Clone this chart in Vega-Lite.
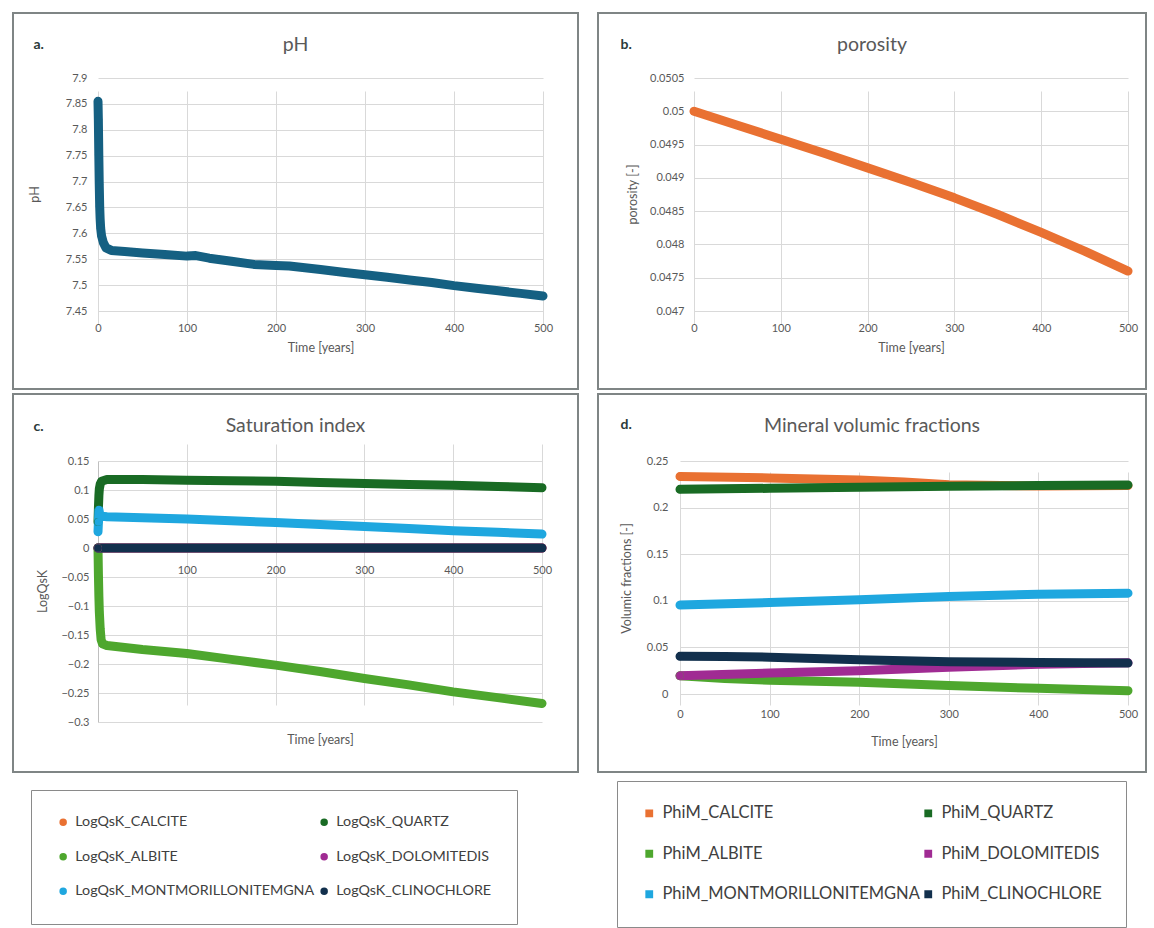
{
"$schema": "https://vega.github.io/schema/vega-lite/v6.json",
"background": "white",
"padding": {"left": 12, "top": 12, "right": 4, "bottom": 0},
"datasets": {
"ph": [
{"t":0,"pH":7.855},{"t":0.4,"pH":7.82},{"t":0.9,"pH":7.752},{"t":1.4,"pH":7.695},{"t":1.9,"pH":7.652},{"t":2.4,"pH":7.628},{"t":3,"pH":7.61},{"t":4,"pH":7.595},{"t":6,"pH":7.582},{"t":9,"pH":7.572},{"t":15,"pH":7.567},{"t":30,"pH":7.565},{"t":50,"pH":7.562},{"t":75,"pH":7.559},{"t":100,"pH":7.556},{"t":110,"pH":7.557},{"t":125,"pH":7.552},{"t":150,"pH":7.546},{"t":175,"pH":7.54},{"t":200,"pH":7.538},{"t":215,"pH":7.537},{"t":250,"pH":7.53},{"t":275,"pH":7.525},{"t":300,"pH":7.52},{"t":325,"pH":7.515},{"t":350,"pH":7.51},{"t":375,"pH":7.505},{"t":400,"pH":7.499},{"t":425,"pH":7.494},{"t":450,"pH":7.489},{"t":475,"pH":7.484},{"t":500,"pH":7.479}
],
"por": [
{"t":0,"porosity":0.05},{"t":50,"porosity":0.04979},{"t":100,"porosity":0.04958},{"t":150,"porosity":0.04937},{"t":200,"porosity":0.04915},{"t":250,"porosity":0.04893},{"t":300,"porosity":0.0487},{"t":350,"porosity":0.04845},{"t":400,"porosity":0.04818},{"t":450,"porosity":0.0479},{"t":500,"porosity":0.0476}
],
"si": [
{"series":"LogQsK_CALCITE","t":0,"LogQsK":0},{"series":"LogQsK_CALCITE","t":100,"LogQsK":0},{"series":"LogQsK_CALCITE","t":200,"LogQsK":0},{"series":"LogQsK_CALCITE","t":300,"LogQsK":0},{"series":"LogQsK_CALCITE","t":400,"LogQsK":0},{"series":"LogQsK_CALCITE","t":500,"LogQsK":0},
{"series":"LogQsK_QUARTZ","t":0,"LogQsK":0.045},{"series":"LogQsK_QUARTZ","t":0.5,"LogQsK":0.07},{"series":"LogQsK_QUARTZ","t":1,"LogQsK":0.09},{"series":"LogQsK_QUARTZ","t":1.5,"LogQsK":0.102},{"series":"LogQsK_QUARTZ","t":2.5,"LogQsK":0.11},{"series":"LogQsK_QUARTZ","t":4,"LogQsK":0.115},{"series":"LogQsK_QUARTZ","t":10,"LogQsK":0.118},{"series":"LogQsK_QUARTZ","t":50,"LogQsK":0.118},{"series":"LogQsK_QUARTZ","t":100,"LogQsK":0.117},{"series":"LogQsK_QUARTZ","t":150,"LogQsK":0.116},{"series":"LogQsK_QUARTZ","t":200,"LogQsK":0.115},{"series":"LogQsK_QUARTZ","t":250,"LogQsK":0.113},{"series":"LogQsK_QUARTZ","t":300,"LogQsK":0.111},{"series":"LogQsK_QUARTZ","t":350,"LogQsK":0.1095},{"series":"LogQsK_QUARTZ","t":400,"LogQsK":0.108},{"series":"LogQsK_QUARTZ","t":450,"LogQsK":0.106},{"series":"LogQsK_QUARTZ","t":500,"LogQsK":0.104},
{"series":"LogQsK_ALBITE","t":0,"LogQsK":0},{"series":"LogQsK_ALBITE","t":0.5,"LogQsK":-0.048},{"series":"LogQsK_ALBITE","t":1,"LogQsK":-0.084},{"series":"LogQsK_ALBITE","t":1.5,"LogQsK":-0.11},{"series":"LogQsK_ALBITE","t":2.5,"LogQsK":-0.14},{"series":"LogQsK_ALBITE","t":3.5,"LogQsK":-0.158},{"series":"LogQsK_ALBITE","t":5,"LogQsK":-0.165},{"series":"LogQsK_ALBITE","t":10,"LogQsK":-0.168},{"series":"LogQsK_ALBITE","t":50,"LogQsK":-0.175},{"series":"LogQsK_ALBITE","t":100,"LogQsK":-0.182},{"series":"LogQsK_ALBITE","t":150,"LogQsK":-0.192},{"series":"LogQsK_ALBITE","t":200,"LogQsK":-0.202},{"series":"LogQsK_ALBITE","t":250,"LogQsK":-0.213},{"series":"LogQsK_ALBITE","t":300,"LogQsK":-0.225},{"series":"LogQsK_ALBITE","t":350,"LogQsK":-0.236},{"series":"LogQsK_ALBITE","t":400,"LogQsK":-0.248},{"series":"LogQsK_ALBITE","t":450,"LogQsK":-0.258},{"series":"LogQsK_ALBITE","t":500,"LogQsK":-0.268},
{"series":"LogQsK_DOLOMITEDIS","t":0,"LogQsK":0},{"series":"LogQsK_DOLOMITEDIS","t":100,"LogQsK":0},{"series":"LogQsK_DOLOMITEDIS","t":200,"LogQsK":0},{"series":"LogQsK_DOLOMITEDIS","t":300,"LogQsK":0},{"series":"LogQsK_DOLOMITEDIS","t":400,"LogQsK":0},{"series":"LogQsK_DOLOMITEDIS","t":500,"LogQsK":0},
{"series":"LogQsK_MONTMORILLONITEMGNA","t":0,"LogQsK":0.028},{"series":"LogQsK_MONTMORILLONITEMGNA","t":0.5,"LogQsK":0.045},{"series":"LogQsK_MONTMORILLONITEMGNA","t":1,"LogQsK":0.066},{"series":"LogQsK_MONTMORILLONITEMGNA","t":2,"LogQsK":0.058},{"series":"LogQsK_MONTMORILLONITEMGNA","t":4,"LogQsK":0.055},{"series":"LogQsK_MONTMORILLONITEMGNA","t":10,"LogQsK":0.054},{"series":"LogQsK_MONTMORILLONITEMGNA","t":50,"LogQsK":0.052},{"series":"LogQsK_MONTMORILLONITEMGNA","t":100,"LogQsK":0.05},{"series":"LogQsK_MONTMORILLONITEMGNA","t":150,"LogQsK":0.047},{"series":"LogQsK_MONTMORILLONITEMGNA","t":200,"LogQsK":0.044},{"series":"LogQsK_MONTMORILLONITEMGNA","t":250,"LogQsK":0.0405},{"series":"LogQsK_MONTMORILLONITEMGNA","t":300,"LogQsK":0.037},{"series":"LogQsK_MONTMORILLONITEMGNA","t":350,"LogQsK":0.0335},{"series":"LogQsK_MONTMORILLONITEMGNA","t":400,"LogQsK":0.0296},{"series":"LogQsK_MONTMORILLONITEMGNA","t":450,"LogQsK":0.027},{"series":"LogQsK_MONTMORILLONITEMGNA","t":500,"LogQsK":0.024},
{"series":"LogQsK_CLINOCHLORE","t":0,"LogQsK":0},{"series":"LogQsK_CLINOCHLORE","t":100,"LogQsK":0},{"series":"LogQsK_CLINOCHLORE","t":200,"LogQsK":0},{"series":"LogQsK_CLINOCHLORE","t":300,"LogQsK":0},{"series":"LogQsK_CLINOCHLORE","t":400,"LogQsK":0},{"series":"LogQsK_CLINOCHLORE","t":500,"LogQsK":0}
],
"vf": [
{"series":"PhiM_CALCITE","t":0,"fraction":0.2335},{"series":"PhiM_CALCITE","t":100,"fraction":0.2318},{"series":"PhiM_CALCITE","t":200,"fraction":0.2295},{"series":"PhiM_CALCITE","t":250,"fraction":0.2275},{"series":"PhiM_CALCITE","t":300,"fraction":0.2245},{"series":"PhiM_CALCITE","t":400,"fraction":0.2232},{"series":"PhiM_CALCITE","t":500,"fraction":0.2236},
{"series":"PhiM_QUARTZ","t":0,"fraction":0.2196},{"series":"PhiM_QUARTZ","t":100,"fraction":0.2207},{"series":"PhiM_QUARTZ","t":200,"fraction":0.2218},{"series":"PhiM_QUARTZ","t":300,"fraction":0.2229},{"series":"PhiM_QUARTZ","t":400,"fraction":0.2236},{"series":"PhiM_QUARTZ","t":500,"fraction":0.2243},
{"series":"PhiM_ALBITE","t":0,"fraction":0.0196},{"series":"PhiM_ALBITE","t":50,"fraction":0.0165},{"series":"PhiM_ALBITE","t":100,"fraction":0.0148},{"series":"PhiM_ALBITE","t":200,"fraction":0.0125},{"series":"PhiM_ALBITE","t":300,"fraction":0.009},{"series":"PhiM_ALBITE","t":400,"fraction":0.0061},{"series":"PhiM_ALBITE","t":500,"fraction":0.0036},
{"series":"PhiM_DOLOMITEDIS","t":0,"fraction":0.0196},{"series":"PhiM_DOLOMITEDIS","t":100,"fraction":0.0225},{"series":"PhiM_DOLOMITEDIS","t":200,"fraction":0.025},{"series":"PhiM_DOLOMITEDIS","t":300,"fraction":0.0286},{"series":"PhiM_DOLOMITEDIS","t":400,"fraction":0.032},{"series":"PhiM_DOLOMITEDIS","t":500,"fraction":0.0335},
{"series":"PhiM_MONTMORILLONITEMGNA","t":0,"fraction":0.0954},{"series":"PhiM_MONTMORILLONITEMGNA","t":100,"fraction":0.0982},{"series":"PhiM_MONTMORILLONITEMGNA","t":200,"fraction":0.1011},{"series":"PhiM_MONTMORILLONITEMGNA","t":300,"fraction":0.1046},{"series":"PhiM_MONTMORILLONITEMGNA","t":400,"fraction":0.1071},{"series":"PhiM_MONTMORILLONITEMGNA","t":500,"fraction":0.1082},
{"series":"PhiM_CLINOCHLORE","t":0,"fraction":0.0404},{"series":"PhiM_CLINOCHLORE","t":50,"fraction":0.0402},{"series":"PhiM_CLINOCHLORE","t":100,"fraction":0.0395},{"series":"PhiM_CLINOCHLORE","t":200,"fraction":0.0368},{"series":"PhiM_CLINOCHLORE","t":300,"fraction":0.0346},{"series":"PhiM_CLINOCHLORE","t":400,"fraction":0.0339},{"series":"PhiM_CLINOCHLORE","t":500,"fraction":0.0332}
]
},
"spacing": 3,
"resolve": {"scale": {"x": "independent", "y": "independent", "color": "independent"}},
"vconcat": [
{
"spacing": 18,
"resolve": {"scale": {"x": "independent", "y": "independent"}},
"hconcat": [
{
"width": 565, "height": 376,
"data": {"name": "ph"},
"title": {"text": "pH", "anchor": "middle", "frame": "group", "offset": -42},
"encoding": {
"x": {"field": "t", "type": "quantitative", "scale": {"domain": [0, 500], "range": [85, 530], "nice": false},
"axis": {"orient": "bottom", "offset": -78, "values": [0,100,200,300,400,500], "title": "Time [years]", "labelPadding": 11, "titleY": 36, "titleBaseline": "middle", "domain": true, "domainColor": "#d9d9d9"}},
"y": {"field": "pH", "type": "quantitative", "scale": {"domain": [7.45, 7.9], "range": [298, 65], "nice": false, "zero": false},
"axis": {"offset": -85, "values": [7.45,7.5,7.55,7.6,7.65,7.7,7.75,7.8,7.85,7.9], "format": "~g", "title": "pH", "labelPadding": 11, "titleX": -64, "titleY": 181, "titleBaseline": "middle"}}
},
"layer": [
{"mark": {"type": "line", "color": "#156082", "strokeWidth": 9, "strokeCap": "round", "strokeJoin": "round"}},
{"transform": [{"filter": "datum.t <= 5"}],
"mark": {"type": "point", "filled": true, "color": "#156082", "size": 60, "opacity": 1},
"encoding": {"x": {"field": "t", "type": "quantitative", "scale": {"domain": [0, 500], "range": [85, 530], "nice": false},
"axis": {"orient": "top", "title": "a.", "labels": false, "grid": false, "domain": false, "titleX": 20, "titleY": 31, "titleAlign": "left", "titleBaseline": "middle", "titleFontWeight": "bold", "titleFontSize": 14, "titleColor": "#2b3a3a"}}}}
],
"resolve": {"axis": {"x": "independent"}}
},
{
"width": 548, "height": 376,
"data": {"name": "por"},
"title": {"text": "porosity", "anchor": "middle", "frame": "group", "offset": -42},
"encoding": {
"x": {"field": "t", "type": "quantitative", "scale": {"domain": [0, 500], "range": [96, 530], "nice": false},
"axis": {"orient": "bottom", "offset": -78, "values": [0,100,200,300,400,500], "title": "Time [years]", "labelPadding": 11, "titleY": 36, "titleBaseline": "middle", "domain": true, "domainColor": "#d9d9d9"}},
"y": {"field": "porosity", "type": "quantitative", "scale": {"domain": [0.047, 0.0505], "range": [298, 65], "nice": false, "zero": false},
"axis": {"offset": -96, "values": [0.047,0.0475,0.048,0.0485,0.049,0.0495,0.05,0.0505], "format": "~g", "title": "porosity [-]", "labelPadding": 10, "titleX": -62, "titleY": 181, "titleBaseline": "middle"}}
},
"layer": [
{"mark": {"type": "line", "color": "#E97132", "strokeWidth": 9, "strokeCap": "round", "strokeJoin": "round"}},
{"transform": [{"filter": "datum.t <= 5"}],
"mark": {"type": "point", "filled": true, "color": "#E97132", "size": 60, "opacity": 1},
"encoding": {"x": {"field": "t", "type": "quantitative", "scale": {"domain": [0, 500], "range": [96, 530], "nice": false},
"axis": {"orient": "top", "title": "b.", "labels": false, "grid": false, "domain": false, "titleX": 22, "titleY": 31, "titleAlign": "left", "titleBaseline": "middle", "titleFontWeight": "bold", "titleFontSize": 14, "titleColor": "#2b3a3a"}}}}
],
"resolve": {"axis": {"x": "independent"}}
}
]
},
{
"spacing": 18,
"resolve": {"scale": {"x": "independent", "y": "independent", "color": "independent"}, "legend": {"color": "independent"}},
"hconcat": [
{
"width": 565, "height": 378,
"data": {"name": "si"},
"title": {"text": "Saturation index", "anchor": "middle", "frame": "group", "offset": -42},
"encoding": {
"x": {"field": "t", "type": "quantitative", "scale": {"domain": [0, 500], "range": [85, 529], "nice": false},
"axis": {"orient": "bottom", "offset": -224, "values": [100,200,300,400,500], "title": "Time [years]", "labelPadding": 16, "titleY": 191, "titleBaseline": "middle", "domain": true, "domainColor": "#bfbfbf"}},
"y": {"field": "LogQsK", "type": "quantitative", "scale": {"domain": [-0.3, 0.15], "range": [328, 67], "nice": false, "zero": false},
"axis": {"offset": -85, "values": [-0.3,-0.25,-0.2,-0.15,-0.1,-0.05,0,0.05,0.1,0.15], "format": "~g", "title": "LogQsK", "labelPadding": 9, "titleX": -56, "titleY": 197, "titleBaseline": "middle", "domain": true, "domainColor": "#bfbfbf"}},
"color": {"field": "series", "type": "nominal",
"scale": {"domain": ["LogQsK_CALCITE","LogQsK_QUARTZ","LogQsK_ALBITE","LogQsK_DOLOMITEDIS","LogQsK_MONTMORILLONITEMGNA","LogQsK_CLINOCHLORE"], "range": ["#E97132","#196B24","#4EA72E","#A02B93","#1FA7DF","#12304D"]},
"legend": {"title": null, "orient": "none", "legendX": 18, "legendY": 396, "direction": "horizontal", "columns": 2, "symbolType": "circle", "symbolSize": 25, "symbolStrokeWidth": 2.5, "labelFontSize": 14.3, "rowPadding": 18.5, "columnPadding": 1, "padding": 25, "strokeColor": "#8a8a8a", "fillColor": "#ffffff"}}
},
"layer": [
{"mark": {"type": "line", "strokeWidth": 9, "strokeCap": "round", "strokeJoin": "round"}},
{"transform": [{"filter": "datum.t <= 5"}],
"mark": {"type": "point", "filled": true, "size": 60, "opacity": 1},
"encoding": {
"x": {"field": "t", "type": "quantitative", "scale": {"domain": [0, 500], "range": [85, 529], "nice": false},
"axis": {"orient": "top", "title": "c.", "labels": false, "grid": false, "domain": false, "titleX": 20, "titleY": 32, "titleAlign": "left", "titleBaseline": "middle", "titleFontWeight": "bold", "titleFontSize": 14, "titleColor": "#2b3a3a"}}
}}
],
"resolve": {"axis": {"x": "independent"}}
},
{
"width": 548, "height": 378,
"data": {"name": "vf"},
"title": {"text": "Mineral volumic fractions", "anchor": "middle", "frame": "group", "offset": -42},
"encoding": {
"x": {"field": "t", "type": "quantitative", "scale": {"domain": [0, 500], "range": [82, 530], "nice": false},
"axis": {"orient": "bottom", "offset": -78, "values": [0,100,200,300,400,500], "title": "Time [years]", "labelPadding": 14, "titleY": 47, "titleBaseline": "middle", "domain": true, "domainColor": "#d9d9d9"}},
"y": {"field": "fraction", "type": "quantitative", "scale": {"domain": [0, 0.25], "range": [300, 67], "nice": false, "zero": false},
"axis": {"offset": -82, "values": [0,0.05,0.1,0.15,0.2,0.25], "format": "~g", "title": "Volumic fractions [-]", "labelPadding": 12, "titleX": -54, "titleY": 184, "titleBaseline": "middle"}},
"color": {"field": "series", "type": "nominal",
"scale": {"domain": ["PhiM_CALCITE","PhiM_QUARTZ","PhiM_ALBITE","PhiM_DOLOMITEDIS","PhiM_MONTMORILLONITEMGNA","PhiM_CLINOCHLORE"], "range": ["#E97132","#196B24","#4EA72E","#A02B93","#1FA7DF","#12304D"]},
"legend": {"title": null, "orient": "none", "legendX": 19, "legendY": 387, "direction": "horizontal", "columns": 2, "symbolType": "square", "symbolSize": 28, "symbolStrokeWidth": 2.5, "labelFontSize": 16.5, "rowPadding": 23.5, "columnPadding": 0, "padding": 24, "strokeColor": "#8a8a8a", "fillColor": "#ffffff"}}
},
"layer": [
{"mark": {"type": "line", "strokeWidth": 9, "strokeCap": "round", "strokeJoin": "round"}},
{"transform": [{"filter": "datum.t <= 5"}],
"mark": {"type": "point", "filled": true, "size": 60, "opacity": 1, "shape": "circle"},
"encoding": {
"x": {"field": "t", "type": "quantitative", "scale": {"domain": [0, 500], "range": [82, 530], "nice": false},
"axis": {"orient": "top", "title": "d.", "labels": false, "grid": false, "domain": false, "titleX": 22, "titleY": 30, "titleAlign": "left", "titleBaseline": "middle", "titleFontWeight": "bold", "titleFontSize": 14, "titleColor": "#2b3a3a"}}
}}
],
"resolve": {"axis": {"x": "independent"}}
}
]
}
],
"config": {
"font": "Lato",
"view": {"stroke": "#7f8585", "strokeWidth": 2},
"title": {"fontSize": 19.5, "fontWeight": "normal", "color": "#595959"},
"axis": {"labelFontSize": 11, "labelColor": "#595959", "titleFontSize": 12.5, "titleColor": "#595959", "titleFontWeight": "normal", "gridColor": "#d9d9d9", "ticks": false, "labelFlush": false, "domain": false},
"legend": {"labelColor": "#404040", "labelLimit": 400, "labelOffset": 5}
}
}
